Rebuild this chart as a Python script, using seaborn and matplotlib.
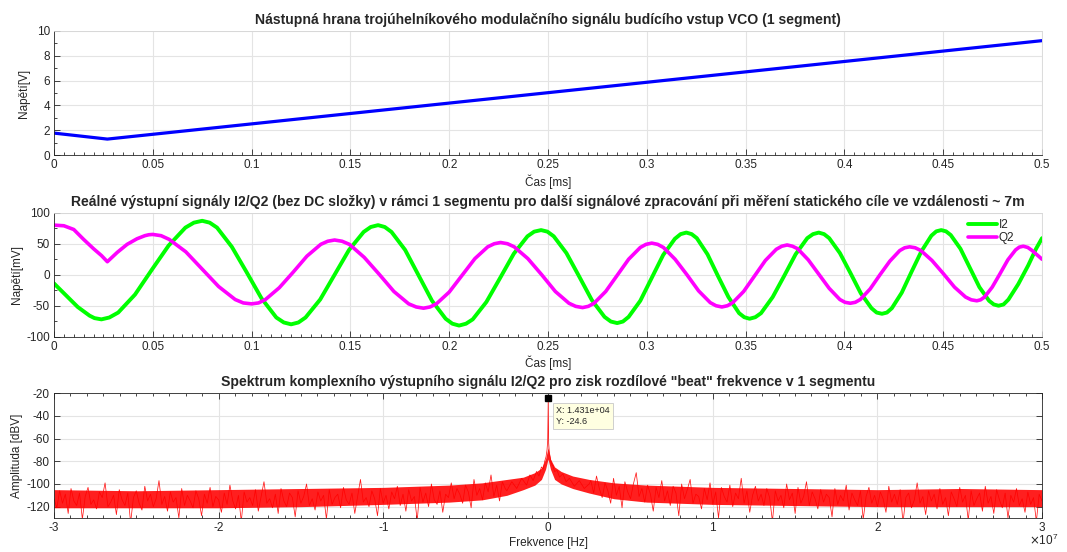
import numpy as np
import pandas as pd
import seaborn as sns
import matplotlib.pyplot as plt
from matplotlib.ticker import MultipleLocator, FuncFormatter

sns.set_style('whitegrid')
plt.rcParams['font.family'] = ['Liberation Sans', 'DejaVu Sans']
plt.rcParams.update({'axes.unicode_minus': False,
                     'xtick.bottom': True, 'ytick.left': True,
                     'xtick.direction': 'in', 'ytick.direction': 'in',
                     'xtick.major.size': 4, 'ytick.major.size': 4,
                     'xtick.minor.size': 2.2, 'ytick.minor.size': 2.2,
                     'xtick.major.width': 0.6, 'ytick.major.width': 0.6,
                     'xtick.minor.width': 0.6, 'ytick.minor.width': 0.6})

# --- data ---
# 1) VCO ramp [ms], [V]
vco_t = [0, 0.027, 0.5]
vco_v = [1.78, 1.3, 9.2]

# 2) I2 / Q2 [ms], [mV]
i2_t = [0, .006, .012, .018, .0205, .024, .028, .0325, .041, .0495,
        .058, .0665, .0708, .075, .0788, .0825, .09, .0975, .105, .1125,
        .1163, .12, .1237, .1273, .1347, .142, .1493, .1567, .1603, .164,
        .1674, .1708, .1777, .1845, .1913, .1982, .2016, .205, .2085, .2119,
        .2188, .2258, .2327, .2396, .243, .2465, .2497, .2529, .2593, .2658,
        .2722, .2786, .2818, .285, .2879, .2908, .2967, .3025, .3083, .3142,
        .3171, .32, .3227, .3253, .3307, .336, .3413, .3467, .3493, .352,
        .3549, .3578, .3637, .3695, .3753, .3812, .3841, .387, .3897, .3923,
        .3977, .403, .4083, .4137, .4163, .419, .4215, .424, .429, .434,
        .439, .444, .4465, .449, .4514, .4538, .4587, .4635, .4683, .4732,
        .4756, .478, .4805, .483, .488, .493, .497, .5]
i2_v = [-14, -33, -52, -66, -70, -72, -69, -61, -32, 8,
        47, 76, 84, 87, 84, 76, 45, 4, -38, -69,
        -77, -80, -77, -69, -40, 0, 40, 69, 77, 80,
        77, 69, 40, -1, -42, -71, -79, -82, -79, -72,
        -44, -5, 34, 62, 69.5, 72, 69.5, 62, 35, -3,
        -41, -68, -75.5, -78, -75.5, -68, -42, -5, 32, 58,
        65.5, 68, 65.5, 59, 33, -2, -36, -62, -68.5, -71,
        -68.5, -62, -36, -2, 33, 59, 65.5, 68, 65.5, 59,
        35, 3, -30, -54, -61, -63, -61, -54, -29, 5,
        38, 63, 70, 72, 70, 64, 42, 11, -20, -42,
        -48, -50, -48, -40, -15, 15, 42, 59]
q2_t = [0, .005, .01, .015, .02, .024, .027, .032, .037, .042,
        .046, .048, .05, .0542, .0583, .0667, .075, .0833, .0917, .0958,
        .1, .1035, .107, .114, .121, .128, .135, .1385, .142, .1458,
        .1495, .157, .1645, .172, .1795, .1833, .187, .1903, .1935, .2,
        .2065, .213, .2195, .2228, .226, .2295, .2329, .2398, .2468, .2537,
        .2606, .264, .2675, .2704, .2733, .2792, .285, .2908, .2967, .2996,
        .3025, .3055, .3084, .3143, .3203, .3262, .3321, .335, .338, .3408,
        .3435, .349, .3545, .36, .3655, .3683, .371, .3737, .3763, .3817,
        .387, .3923, .3977, .4003, .403, .4055, .408, .413, .418, .423,
        .428, .4305, .433, .4358, .4387, .4443, .45, .4557, .4613, .4642,
        .467, .4689, .4709, .4748, .4788, .4827, .4866, .4885, .4905, .4928,
        .495, .5]
q2_v = [80, 79, 73, 57, 42, 31, 21, 36, 49, 58,
        63, 64.5, 65, 63, 57, 37, 9, -19, -40, -45.5,
        -47, -45.5, -40, -21, 4, 30, 49, 54, 56, 54,
        49, 28, 1, -27, -47, -52, -54, -52, -47, -28,
        -1, 26, 45, 50, 52, 50, 45, 26, 0, -27,
        -46, -51, -53, -51, -46, -27, -1, 25, 44, 49,
        51, 49, 44, 25, 0, -26, -45, -50, -52, -50,
        -45, -27, -2, 23, 41, 46, 48, 46, 42, 24,
        1, -22, -40, -44.5, -46, -44.5, -40, -23, 0, 22,
        39, 43.5, 45, 43.5, 39, 23, 2, -20, -36, -40.5,
        -42, -40.5, -36, -20, 2, 24, 40, 44.5, 46, 44,
        39, 25]

# 3) spectrum [x1e7 Hz], [dBV]
band_f = [-3, -2.5, -2, -1.5, -1, -0.6, -0.4, -0.25, -0.15, -0.08, -0.04, -0.015, 0,
          0.015, 0.04, 0.08, 0.15, 0.25, 0.4, 0.6, 1, 1.5, 2, 2.5, 3]
band_lo = [-121, -121, -121, -120, -118, -116, -114, -110, -105, -101, -96, -87, -78,
           -87, -96, -100, -104, -108, -113, -116, -118, -119, -120, -120, -120]
band_hi = [-105, -106, -105, -104, -103, -101, -99, -96, -94, -90, -86, -78, -68,
           -78, -85, -89, -93, -96, -99, -101, -103, -104, -105, -104, -105]

noise_l = [-113, -121, -106, -117, -109, -126, -104, -115, -119, -108, -131, -111, -103, -118, -114, -122, -107, -112, -99, -120,
           -116, -110, -127, -105, -114, -119, -108, -134, -112, -106, -117, -123, -102, -115, -109, -120, -113, -97, -118, -111,
           -124, -107, -116, -112, -130, -104, -119, -110, -115, -121, -106, -113, -128, -109, -117, -103, -120, -111, -114, -125,
           -108, -118, -101, -115, -122, -110, -133, -107, -116, -112, -119, -105, -124, -111, -98, -117, -113, -121, -109, -126,
           -104, -115, -120, -108, -112, -129, -106, -117, -111, -100, -119, -113, -123, -107, -115, -110, -131, -105, -118, -112,
           -109, -121, -103, -114, -118, -108, -126, -111, -96, -116, -112, -120, -106, -113, -128, -104, -117, -110, -122, -107,
           -113, -102, -119, -109, -124, -105, -115, -111, -132, -103, -116, -108, -120, -100, -114, -118, -106, -125, -109, -112,
           -99, -113, -104, -109, -117, -101, -107, -121, -96, -110, -104, -114, -99, -107, -92, -111, -101, -115, -98, -104]
peak_f = [-0.25, -0.22, -0.19, -0.16, -0.13, -0.11, -0.09, -0.07, -0.055, -0.04, -0.03,
          -0.02, -0.012, -0.006, -0.002, 0.001431, 0.004, 0.008, 0.014, 0.02, 0.03, 0.04,
          0.055, 0.07, 0.09, 0.11, 0.13, 0.16, 0.19, 0.22, 0.25]
peak_v = [-106, -98, -104, -95, -101, -92, -97, -89, -93, -85, -87,
          -80, -76, -70, -62, -24.6, -64, -72, -77, -82, -84, -89,
          -88, -94, -91, -98, -95, -102, -97, -104, -100]
noise_r = [-97, -108, -93, -104, -112, -99, -106, -117, -95, -110, -102, -121, -98, -107, -113, -100, -90, -111, -104, -116,
           -101, -109, -124, -103, -112, -97, -115, -106, -119, -102, -108, -128, -100, -113, -105, -96, -117, -109, -111, -122,
           -104, -114, -99, -118, -107, -130, -103, -111, -116, -101, -120, -108, -113, -95, -117, -106, -125, -110, -102, -115,
           -109, -119, -104, -112, -133, -106, -115, -110, -121, -100, -114, -108, -126, -103, -117, -111, -98, -119, -107, -113,
           -122, -105, -116, -109, -112, -129, -104, -118, -110, -115, -101, -123, -108, -114, -119, -106, -131, -111, -103, -117,
           -110, -120, -107, -113, -125, -102, -116, -109, -118, -105, -134, -112, -108, -121, -114, -99, -117, -111, -127, -106,
           -115, -109, -122, -104, -118, -112, -128, -107, -113, -120, -103, -116, -110, -132, -106, -119, -113, -108, -124, -102,
           -117, -111, -126, -105, -114, -121, -108, -130, -110, -116, -104, -119, -113, -125, -107, -118, -112, -133, -109, -115]
tip_f, tip_v = 1.431e4, -24.6

# spectrum frequency bins (Hz)
spec_f = np.concatenate([np.linspace(-3e7, -0.26e7, len(noise_l)),
                         np.array(peak_f) * 1e7,
                         np.linspace(0.26e7, 3e7, len(noise_r))])
spec_v = np.concatenate([noise_l, peak_v, noise_r])
spec = pd.DataFrame({'f': spec_f, 'v': spec_v})

dark = '#262626'
fmt = FuncFormatter(lambda v, p: '%g' % v)


def style(ax, box=False):
    ax.set_facecolor('white')
    ax.grid(True, which='major', color='#e4e4e4', linewidth=0.8)
    ax.set_axisbelow(True)
    for s in ['left', 'bottom']:
        ax.spines[s].set_color(dark)
        ax.spines[s].set_linewidth(0.6)
    for s in ['top', 'right']:
        ax.spines[s].set_color(dark if box else '#d6d6d6')
        ax.spines[s].set_linewidth(0.6)
    ax.tick_params(which='both', direction='in', color=dark, labelcolor=dark, labelsize=8.5,
                   left=True, bottom=True, pad=3)


fig = plt.figure(figsize=(10.67, 5.52), dpi=100)
ax1 = fig.add_axes([0.0506, 0.7187, 0.926, 0.2257])
ax2 = fig.add_axes([0.0506, 0.3900, 0.926, 0.2246])
ax3 = fig.add_axes([0.0506, 0.0616, 0.926, 0.2260])

# --- top: VCO ramp ---
style(ax1)
sns.lineplot(x=vco_t, y=vco_v, ax=ax1, color='#0000ff', linewidth=2.3, sort=False, estimator=None)
ax1.set_xlim(0, 0.5)
ax1.set_ylim(0, 10)
ax1.xaxis.set_major_locator(MultipleLocator(0.05))
ax1.xaxis.set_minor_locator(MultipleLocator(0.005))
ax1.yaxis.set_major_locator(MultipleLocator(2))
ax1.yaxis.set_minor_locator(MultipleLocator(1))
ax1.xaxis.set_major_formatter(fmt)
ax1.set_title('Nástupná hrana trojúhelníkového modulačního signálu budícího vstup VCO (1 segment)',
              fontsize=10.1, fontweight='bold', pad=5)
ax1.set_xlabel('Čas [ms]', fontsize=8.5, color=dark, labelpad=2)
ax1.set_ylabel('Napětí[V]', fontsize=8.5, color=dark, labelpad=5)

# --- middle: I2 / Q2 ---
style(ax2)
sns.lineplot(x=i2_t, y=i2_v, ax=ax2, color='#00ff00', linewidth=2.8, sort=False, estimator=None, label='I2')
sns.lineplot(x=q2_t, y=q2_v, ax=ax2, color='#ff00ff', linewidth=2.6, sort=False, estimator=None, label='Q2')
ax2.set_xlim(0, 0.5)
ax2.set_ylim(-100, 100)
ax2.xaxis.set_major_locator(MultipleLocator(0.05))
ax2.xaxis.set_minor_locator(MultipleLocator(0.005))
ax2.yaxis.set_major_locator(MultipleLocator(50))
ax2.yaxis.set_minor_locator(MultipleLocator(25))
ax2.xaxis.set_major_formatter(fmt)
ax2.set_title('Reálné výstupní signály I2/Q2 (bez DC složky) v rámci 1 segmentu pro další signálové '
              'zpracování při měření statického cíle ve vzdálenosti ~ 7m',
              fontsize=10.1, fontweight='bold', pad=5)
ax2.set_xlabel('Čas [ms]', fontsize=8.5, color=dark, labelpad=2)
ax2.set_ylabel('Napětí[mV]', fontsize=8.5, color=dark, labelpad=2)
ax2.legend(loc='upper right', bbox_to_anchor=(0.978, 1.0), frameon=False, fontsize=8.5,
           handlelength=2.4, handletextpad=0.2, labelspacing=0.1, borderaxespad=0.1)

# --- bottom: spectrum ---
style(ax3, box=True)
ax3.fill_between(np.array(band_f) * 1e7, band_lo, band_hi, color='#ff0000', alpha=0.88, linewidth=0)
sns.lineplot(data=spec, x='f', y='v', ax=ax3, color='#ff0000', linewidth=0.55, alpha=0.9,
             sort=False, estimator=None)
ax3.plot([tip_f], [tip_v], marker='s', color='black', markersize=5, clip_on=False)
ax3.annotate('X: 1.431e+04\nY: -24.6', xy=(tip_f, tip_v), xytext=(8, -8), textcoords='offset pixels',
             ha='left', va='top', fontsize=6.5, color=dark, linespacing=1.2,
             bbox=dict(boxstyle='square,pad=0.4', facecolor='#ffffe1', edgecolor='#c8c8c8', linewidth=0.6))
ax3.set_xlim(-3e7, 3e7)
ax3.set_ylim(-130, -20)
ax3.xaxis.set_major_locator(MultipleLocator(1e7))
ax3.xaxis.set_minor_locator(MultipleLocator(0.1e7))
ax3.yaxis.set_major_locator(MultipleLocator(20))
ax3.xaxis.set_major_formatter(FuncFormatter(lambda v, p: '%g' % (v / 1e7)))
ax3.tick_params(which='both', top=True, right=True)
ax3.set_title('Spektrum komplexního výstupního signálu I2/Q2 pro zisk rozdílové "beat" frekvence v 1 segmentu',
              fontsize=10.1, fontweight='bold', pad=5)
ax3.set_xlabel('Frekvence [Hz]', fontsize=8.5, color=dark, labelpad=2)
ax3.set_ylabel('Amplituda [dBV]', fontsize=8.5, color=dark, labelpad=2)
fig.text(0.992, 0.008, r'$\times\mathregular{10^{7}}$', ha='right', va='bottom', fontsize=8.5, color=dark)

fig.savefig('out.png', dpi=100)
